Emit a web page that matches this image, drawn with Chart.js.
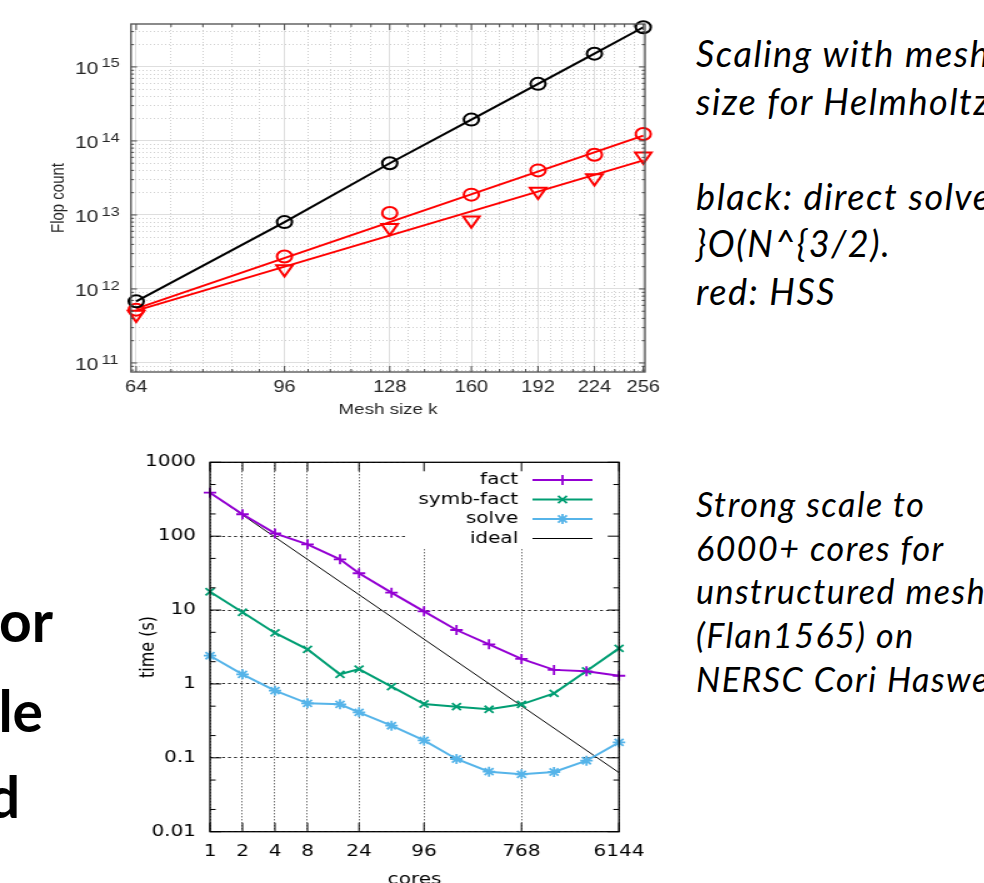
<!DOCTYPE html>
<html lang="en">
<head>
<meta charset="utf-8">
<title>Scaling</title>
<script src="https://cdn.jsdelivr.net/npm/chart.js@4.4.1/dist/chart.umd.min.js"></script>
<style>
  html, body { margin: 0; padding: 0; background: #fff; }
  body { position: relative; width: 984px; height: 883px; overflow: hidden; }
  .wide { position: absolute; transform-origin: 0 0; transform: scaleX(1.25); }
  #flopBox { left: 0; top: 0; width: 528px; height: 425px; }
  #coreBox { left: 130px; top: 440px; width: 424px; height: 460px; }
  .note { position: absolute; left: 696px; font-family: Lato, "Open Sans", sans-serif; font-style: italic; white-space: nowrap; color: #000; }
  #note1 { top: 30px; font-size: 36px; line-height: 47.5px; letter-spacing: 1.6px; }
  #note2 { top: 482px; font-size: 34px; line-height: 43.7px; letter-spacing: 1.5px; }
  .big { position: absolute; font-family: Lato, sans-serif; font-weight: bold; font-size: 57px; line-height: 66px; white-space: nowrap; color: #000; }
</style>
</head>
<body>
<div id="flopBox" class="wide"><canvas id="flopChart" width="528" height="425"></canvas></div>
<div id="coreBox" class="wide"><canvas id="coreChart" width="424" height="460"></canvas></div>

<div id="note1" class="note">Scaling with mesh<br>size for Helmholtz<br><br>black: direct solver<br>}O(N^{3/2).<br>red: HSS</div>
<div id="note2" class="note">Strong scale to<br>6000+ cores for<br>unstructured mesh<br>(Flan1565) on<br>NERSC Cori Haswell</div>

<div class="big" style="right: 931px; top: 587px;">or</div>
<div class="big" style="right: 941px; top: 677px;">le</div>
<div class="big" style="right: 964px; top: 763px;">d</div>

<script>
// 위 그림: mesh size k 에 따른 flop count
const meshK = [64, 96, 128, 160, 192, 224, 256];
const meshTickK = [64, 96, 128, 160, 192, 224, 256];
const directFlops = [6.8e11, 8.0e12, 5.0e13, 1.94e14, 5.9e14, 1.51e15, 3.43e15];
const hssCircleFlops = [5.25e11, 2.75e12, 1.06e13, 1.88e13, 4.0e13, 6.5e13, 1.24e14];
const hssTriangleFlops = [4.5e11, 1.86e12, 6.7e12, 8.45e12, 2.08e13, 3.16e13, 6.2e13];
const fitK = [64, 256];
const hssCircleFit = [5.42e11, 1.18e14];
const hssTriangleFit = [5.1e11, 5.47e13];
const flopMin = 7.55e10;
const flopMax = 3.8e15;

// 아래 그림: strong scaling (cores vs time)
const cores = [1, 2, 4, 8, 16, 24, 48, 96, 192, 384, 768, 1536, 3072, 6144];
const coreTicks = [1, 2, 4, 8, 24, 96, 768, 6144];
const factTime = [388, 198, 109, 77.6, 48.6, 31.5, 17.2, 9.6, 5.37, 3.44, 2.18, 1.55, 1.48, 1.29];
const symbFactTime = [17.7, 9.33, 4.9, 2.94, 1.35, 1.59, 0.92, 0.535, 0.492, 0.454, 0.53, 0.746, 1.5, 3.03];
const solveTime = [2.41, 1.35, 0.81, 0.547, 0.53, 0.413, 0.272, 0.172, 0.0964, 0.0649, 0.0598, 0.0643, 0.0914, 0.162];
const idealCores = [1, 6144];
const idealTime = [388, 0.063];
const timeTicks = [0.01, 0.1, 1, 10, 100, 1000];
const timeTickLabels = ["0.01", "0.1", "1", "10", "100", "1000"];
const seriesNames = ["fact", "symb-fact", "solve", "ideal"];

const pts = (xs, ys) => xs.map((x, i) => ({ x: x, y: ys[i] }));

function strokeLine(ctx, x1, y1, x2, y2) {
  ctx.beginPath();
  ctx.moveTo(x1, y1);
  ctx.lineTo(x2, y2);
  ctx.stroke();
}

// 축 라벨이 차트 영역을 밀어내지 않도록
function noPadding(scale) {
  scale.paddingTop = 0;
  scale.paddingBottom = 0;
  scale.paddingLeft = 0;
  scale.paddingRight = 0;
}

// MATLAB 스타일: 안쪽 눈금, 테두리, 10^n 지수
const matlabFrame = {
  id: "matlabFrame",
  afterDraw(chart) {
    const { ctx, chartArea: a, scales } = chart;
    ctx.save();
    ctx.strokeStyle = "#4d4d4d";
    ctx.lineWidth = 1;
    scales.x.ticks.forEach((t) => {
      const px = scales.x.getPixelForValue(t.value);
      const len = t.major ? 6 : 3;
      strokeLine(ctx, px, a.bottom, px, a.bottom - len);
      strokeLine(ctx, px, a.top, px, a.top + len);
    });
    scales.y.ticks.forEach((t) => {
      const py = scales.y.getPixelForValue(t.value);
      const len = t.major ? 4.8 : 2.4;
      strokeLine(ctx, a.left, py, a.left + len, py);
      strokeLine(ctx, a.right, py, a.right - len, py);
    });
    ctx.lineWidth = 1.3;
    ctx.strokeRect(a.left, a.top, a.right - a.left, a.bottom - a.top);

    ctx.fillStyle = "#262626";
    ctx.font = '13px "Liberation Sans", Arial, sans-serif';
    ctx.textAlign = "left";
    ctx.textBaseline = "middle";
    scales.y.ticks.forEach((t) => {
      if (!t.major) return;
      const py = scales.y.getPixelForValue(t.value);
      ctx.fillText(String(Math.round(Math.log10(t.value))), a.left - 23.5, py - 3);
    });
    ctx.restore();
  },
};

new Chart(document.getElementById("flopChart"), {
  type: "line",
  data: {
    datasets: [
      {
        label: "direct",
        data: pts(meshK, directFlops),
        borderColor: "#000000",
        borderWidth: 2,
        pointStyle: "circle",
        pointRadius: 6,
        pointBorderWidth: 2,
        pointBorderColor: "#000000",
        pointBackgroundColor: "rgba(0,0,0,0)",
      },
      {
        label: "HSS fit o",
        data: pts(fitK, hssCircleFit),
        borderColor: "#ff0000",
        borderWidth: 2,
        pointRadius: 0,
      },
      {
        label: "HSS fit v",
        data: pts(fitK, hssTriangleFit),
        borderColor: "#ff0000",
        borderWidth: 2,
        pointRadius: 0,
      },
      {
        label: "HSS o",
        data: pts(meshK, hssCircleFlops),
        showLine: false,
        pointStyle: "circle",
        pointRadius: 6,
        pointBorderWidth: 2,
        pointBorderColor: "#ff0000",
        pointBackgroundColor: "rgba(0,0,0,0)",
      },
      {
        label: "HSS v",
        data: pts(meshK, hssTriangleFlops),
        showLine: false,
        pointStyle: "triangle",
        pointRotation: 180,
        pointRadius: 7.5,
        pointBorderWidth: 2,
        pointBorderColor: "#ff0000",
        pointBackgroundColor: "rgba(0,0,0,0)",
      },
    ],
  },
  options: {
    responsive: false,
    maintainAspectRatio: false,
    animation: false,
    events: [],
    clip: false,
    layout: { padding: { left: 38, top: 24, right: 12, bottom: 0 } },
    elements: { line: { tension: 0 } },
    plugins: { legend: { display: false }, tooltip: { enabled: false } },
    scales: {
      x: {
        type: "logarithmic",
        min: 63.1,
        max: 257.2,
        bounds: "data",
        afterBuildTicks(scale) {
          const ticks = [];
          for (let i = 0; i < meshTickK.length - 1; i++) {
            const a = meshTickK[i];
            const b = meshTickK[i + 1];
            for (let j = 0; j < 5; j++) ticks.push({ value: a + ((b - a) * j) / 5, major: j === 0 });
          }
          ticks.push({ value: meshTickK[meshTickK.length - 1], major: true });
          scale.ticks = ticks;
        },
        afterFit(scale) {
          scale.height = 53;
          noPadding(scale);
        },
        grid: {
          drawTicks: false,
          color: (c) => (c.tick && c.tick.major ? "#dedede" : "#cfcfcf"),
          lineWidth: 1,
        },
        border: { display: false, dash: (c) => (c.tick && c.tick.major ? [] : [1, 2]) },
        ticks: {
          autoSkip: false,
          maxRotation: 0,
          padding: 6,
          color: "#262626",
          font: { family: '"Liberation Sans", Arial, sans-serif', size: 16 },
          callback: (v, i, ticks) => (ticks[i].major ? String(Math.round(v)) : ""),
        },
        title: {
          display: true,
          text: "Mesh size k",
          color: "#262626",
          font: { family: '"Liberation Sans", Arial, sans-serif', size: 15 },
          padding: { top: 0, bottom: 6 },
        },
      },
      y: {
        type: "logarithmic",
        min: flopMin,
        max: flopMax,
        bounds: "data",
        afterBuildTicks(scale) {
          const ticks = [];
          for (let e = 10; e <= 15; e++) {
            for (let m = 1; m <= 9; m++) {
              const v = m * Math.pow(10, e);
              if (v >= flopMin && v <= flopMax) ticks.push({ value: v, major: m === 1 });
            }
          }
          scale.ticks = ticks;
        },
        afterFit(scale) {
          scale.width = 66.8;
          noPadding(scale);
        },
        grid: {
          drawTicks: false,
          color: (c) => (c.tick && c.tick.major ? "#dedede" : "#cfcfcf"),
          lineWidth: 1,
        },
        border: { display: false, dash: (c) => (c.tick && c.tick.major ? [] : [1, 2]) },
        ticks: {
          autoSkip: false,
          padding: 26,
          labelOffset: 2,
          color: "#262626",
          font: { family: '"Liberation Sans", Arial, sans-serif', size: 17 },
          callback: (v, i, ticks) => (ticks[i].major ? "10" : ""),
        },
        title: {
          display: true,
          text: "Flop count",
          color: "#262626",
          font: { family: '"Liberation Sans", Arial, sans-serif', size: 15 },
          padding: { top: 0, bottom: 0 },
        },
      },
    },
  },
  plugins: [matlabFrame],
});

// gnuplot 스타일: 범례 박스, 안쪽 눈금
const gnuplotFrame = {
  id: "gnuplotFrame",
  beforeDatasetsDraw(chart) {
    const { ctx, chartArea: a } = chart;
    ctx.save();
    ctx.fillStyle = "#ffffff";
    ctx.fillRect(a.left + 156, a.top, a.right - a.left - 156, 86);
    ctx.restore();
  },
  afterDraw(chart) {
    const { ctx, chartArea: a, scales } = chart;
    ctx.save();
    ctx.strokeStyle = "#000000";
    ctx.lineWidth = 1;
    timeTicks.forEach((v) => {
      const py = scales.y.getPixelForValue(v);
      strokeLine(ctx, a.left, py, a.left + 9, py);
      strokeLine(ctx, a.right, py, a.right - 9, py);
      [2, 5].forEach((m) => {
        const mv = v * m;
        if (mv >= 1000) return;
        const my = scales.y.getPixelForValue(mv);
        strokeLine(ctx, a.left, my, a.left + 4.5, my);
        strokeLine(ctx, a.right, my, a.right - 4.5, my);
      });
    });
    coreTicks.forEach((v) => {
      const px = scales.x.getPixelForValue(v);
      strokeLine(ctx, px, a.bottom, px, a.bottom - 9);
      strokeLine(ctx, px, a.top, px, a.top + 9);
    });
    ctx.lineWidth = 1.3;
    ctx.strokeRect(a.left, a.top, a.right - a.left, a.bottom - a.top);

    // 범례
    ctx.font = '16px "DejaVu Sans", sans-serif';
    ctx.textAlign = "right";
    ctx.textBaseline = "middle";
    chart.data.datasets.forEach((ds, i) => {
      const y = a.top + 17.7 + i * 19.5;
      ctx.fillStyle = "#000000";
      ctx.fillText(ds.label, a.right - 80.6, y);
      ctx.strokeStyle = ds.borderColor;
      ctx.lineWidth = ds.borderWidth;
      strokeLine(ctx, a.right - 69.2, y, a.right - 21.2, y);
      if (ds.pointRadius > 0 && Chart.helpers && Chart.helpers.drawPoint) {
        ctx.lineWidth = ds.pointBorderWidth;
        Chart.helpers.drawPoint(
          ctx,
          { pointStyle: ds.pointStyle, rotation: 0, radius: ds.pointRadius, borderWidth: ds.pointBorderWidth },
          a.right - 45.2,
          y
        );
      }
    });
    ctx.restore();
  },
};

const gnuFont = { family: '"DejaVu Sans", sans-serif', size: 16 };

new Chart(document.getElementById("coreChart"), {
  type: "line",
  data: {
    datasets: [
      {
        label: seriesNames[0],
        data: pts(cores, factTime),
        borderColor: "#9400d3",
        borderWidth: 2,
        pointStyle: "cross",
        pointRadius: 5,
        pointBorderWidth: 1.8,
        pointBorderColor: "#9400d3",
      },
      {
        label: seriesNames[1],
        data: pts(cores, symbFactTime),
        borderColor: "#009e73",
        borderWidth: 2,
        pointStyle: "crossRot",
        pointRadius: 5,
        pointBorderWidth: 1.8,
        pointBorderColor: "#009e73",
      },
      {
        label: seriesNames[2],
        data: pts(cores, solveTime),
        borderColor: "#56b4e9",
        borderWidth: 2,
        pointStyle: "star",
        pointRadius: 5,
        pointBorderWidth: 1.8,
        pointBorderColor: "#56b4e9",
      },
      {
        label: seriesNames[3],
        data: pts(idealCores, idealTime),
        borderColor: "#000000",
        borderWidth: 1,
        pointRadius: 0,
      },
    ],
  },
  options: {
    responsive: false,
    maintainAspectRatio: false,
    animation: false,
    events: [],
    clip: false,
    layout: { padding: { left: 0, top: 22.3, right: 32.8, bottom: 0 } },
    elements: { line: { tension: 0 } },
    plugins: { legend: { display: false }, tooltip: { enabled: false } },
    scales: {
      x: {
        type: "logarithmic",
        min: 1,
        max: 6144,
        bounds: "data",
        afterBuildTicks(scale) {
          scale.ticks = coreTicks.map((v) => ({ value: v }));
        },
        afterFit(scale) {
          scale.height = 68.3;
          noPadding(scale);
        },
        grid: { drawTicks: false, color: "rgba(0,0,0,0.8)", lineWidth: 1 },
        border: { display: false, dash: [1, 2] },
        ticks: {
          autoSkip: false,
          maxRotation: 0,
          padding: 10.7,
          color: "#000000",
          font: gnuFont,
          callback: (v) => String(v),
        },
        title: {
          display: true,
          text: "cores",
          color: "#000000",
          font: gnuFont,
          padding: { top: 0, bottom: 10.4 },
        },
      },
      y: {
        type: "logarithmic",
        min: 0.01,
        max: 1000,
        bounds: "data",
        afterBuildTicks(scale) {
          scale.ticks = timeTicks.map((v) => ({ value: v }));
        },
        afterFit(scale) {
          scale.width = 64;
          noPadding(scale);
        },
        grid: { drawTicks: false, color: "rgba(0,0,0,0.8)", lineWidth: 1 },
        border: { display: false, dash: [2.4, 2.4] },
        ticks: {
          autoSkip: false,
          padding: 11.2,
          color: "#000000",
          font: gnuFont,
          callback: (v, i) => timeTickLabels[i],
        },
        title: {
          display: true,
          text: "time (s)",
          color: "#000000",
          font: gnuFont,
          padding: { top: 5.2, bottom: 0 },
        },
      },
    },
  },
  plugins: [gnuplotFrame],
});
</script>
</body>
</html>
